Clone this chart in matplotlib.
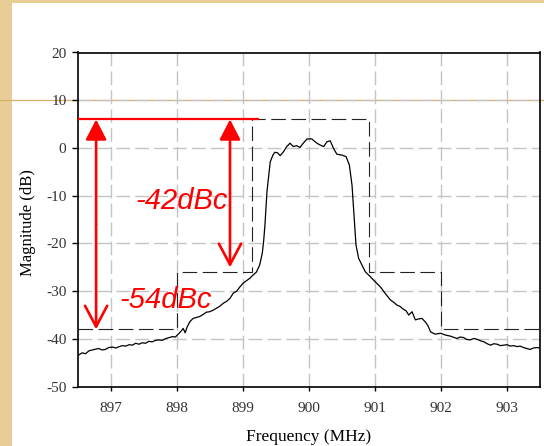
#!/usr/bin/env python3
# spectrum with emission mask, -42dBc / -54dBc markers
import matplotlib
matplotlib.use("Agg")
import matplotlib.pyplot as plt
from matplotlib.patches import Rectangle
from matplotlib.lines import Line2D

plt.rcParams['lines.scale_dashes'] = False
plt.rcParams['axes.unicode_minus'] = False

freq = [896.50, 896.56, 896.61, 896.66, 896.74, 896.81, 896.86, 896.91, 896.96, 897.02,
        897.07, 897.12, 897.17, 897.22, 897.27, 897.32, 897.37, 897.42, 897.47, 897.52,
        897.57, 897.62, 897.67, 897.72, 897.77, 897.83, 897.88, 897.93, 897.97, 898.00,
        898.05, 898.09, 898.12, 898.15, 898.19, 898.24, 898.29, 898.34, 898.39, 898.44,
        898.49, 898.54, 898.59, 898.64, 898.70, 898.75, 898.80, 898.85, 898.90, 898.95,
        899.00, 899.05, 899.10, 899.15, 899.20, 899.25, 899.29, 899.31, 899.33, 899.36,
        899.41, 899.45, 899.48, 899.52, 899.56, 899.61, 899.66, 899.71, 899.76, 899.81,
        899.86, 899.91, 899.97, 900.04, 900.09, 900.13, 900.17, 900.22, 900.27, 900.32,
        900.37, 900.42, 900.50, 900.56, 900.61, 900.65, 900.68, 900.71, 900.75, 900.80,
        900.85, 900.93, 901.00, 901.08, 901.15, 901.23, 901.28, 901.33, 901.38, 901.43,
        901.47, 901.51, 901.56, 901.61, 901.66, 901.71, 901.76, 901.80, 901.84, 901.91,
        901.99, 902.07, 902.14, 902.24, 902.29, 902.34, 902.39, 902.44, 902.50, 902.55,
        902.60, 902.65, 902.70, 902.75, 902.80, 902.85, 902.90, 902.95, 903.00, 903.05,
        903.10, 903.15, 903.20, 903.25, 903.30, 903.35, 903.40, 903.45, 903.50]
mag = [-43.4, -42.9, -43.1, -42.5, -42.2, -42.0, -42.3, -42.2, -41.8, -41.7,
       -41.9, -41.6, -41.4, -41.5, -41.2, -41.3, -40.9, -41.1, -40.8, -40.9,
       -40.5, -40.6, -40.3, -40.2, -40.3, -39.9, -39.7, -39.5, -39.6, -39.2,
       -38.5, -37.8, -38.7, -37.5, -36.4, -35.7, -35.5, -35.3, -34.9, -34.4,
       -34.3, -34.0, -33.6, -33.2, -32.5, -32.1, -31.5, -30.4, -30.0, -29.1,
       -28.3, -27.8, -27.3, -26.6, -26.0, -24.5, -22.0, -19.5, -16.1, -9.2,
       -2.9, -1.5, -0.9, -1.0, -1.6, -0.8, 0.3, 1.0, 0.3, 0.5,
       0.1, 1.0, 1.9, 1.9, 1.3, 0.9, 0.6, 0.3, 1.3, 1.5,
       -0.1, -1.3, -1.5, -1.8, -3.6, -7.8, -14.0, -20.3, -23.1, -24.5,
       -25.9, -27.0, -28.0, -29.1, -30.4, -31.8, -32.3, -32.9, -33.2, -33.8,
       -34.1, -35.0, -34.3, -36.0, -35.8, -35.7, -36.4, -37.2, -38.5, -39.0,
       -38.8, -39.2, -39.4, -39.9, -39.6, -39.7, -40.1, -40.2, -39.9, -40.1,
       -40.4, -40.6, -41.0, -41.3, -41.0, -41.1, -41.4, -41.3, -41.2, -41.5,
       -41.4, -41.6, -41.5, -41.8, -42.0, -42.2, -41.9, -41.8, -41.9]

# spectral mask (dashed)
mask_f = [896.5, 898.0, 898.0, 899.13, 899.13, 900.9, 900.9, 902.0, 902.0, 903.5]
mask_db = [-38, -38, -26, -26, 6, 6, -26, -26, -38, -38]

# red markers
ref_level = 6
ref_end = 899.24
arrow1_x, arrow1_low, label1 = 896.77, -38, '-54dBc'
arrow2_x, arrow2_low, label2 = 898.8, -25, '-42dBc'

xticks = [897, 898, 899, 900, 901, 902, 903]
yticks = [-50, -40, -30, -20, -10, 0, 10, 20]

fig = plt.figure(figsize=(5.44, 4.46), dpi=100)
fig.patch.set_facecolor('#E9CD96')
# white slide panel
fig.patches.append(Rectangle((12/544, 0), 1, 1 - 3/446, transform=fig.transFigure,
                             facecolor='white', edgecolor='none', zorder=-2))
# thin tan rule across the slide
fig.lines.append(Line2D([0, 1], [1 - 100/446, 1 - 100/446], transform=fig.transFigure,
                        color='#D8AE68', lw=0.9, zorder=-1))

ax = fig.add_axes([78.3/544, 1 - 386.7/446, (540 - 78.3)/544, (386.7 - 52.5)/446])
ax.set_zorder(1)
ax.set_facecolor('none')

ax.set_xlim(896.5, 903.5)
ax.set_ylim(-50, 20)
ax.set_xticks(xticks)
ax.set_yticks(yticks)
ax.grid(True, color='#c4c4c4', lw=1.0, linestyle=(0, (10, 3.6)))
ax.set_axisbelow(True)

ax.plot(mask_f, mask_db, color='#222222', lw=0.8, linestyle=(0, (10.5, 4)), zorder=3)
ax.plot(freq, mag, color='black', lw=0.9, zorder=4)

ax.plot([896.5, ref_end], [ref_level, ref_level], color='red', lw=1.6,
        solid_capstyle='butt', zorder=6, clip_on=False)
for x, low in [(arrow1_x, arrow1_low), (arrow2_x, arrow2_low)]:
    mid = (ref_level + low) / 2
    ax.annotate('', xy=(x, ref_level), xytext=(x, mid),
                arrowprops=dict(arrowstyle='-|>,head_length=0.62,head_width=0.32',
                                color='red', lw=1.9, shrinkA=0, shrinkB=0,
                                mutation_scale=20), zorder=6)
    ax.annotate('', xy=(x, low), xytext=(x, mid),
                arrowprops=dict(arrowstyle='->,head_length=0.75,head_width=0.4',
                                color='red', lw=1.9, shrinkA=0, shrinkB=0,
                                mutation_scale=20), zorder=6)

ax.text(897.37, -12.8, label2, color='red', fontsize=21, fontstyle='italic',
        family='Liberation Sans', ha='left', va='baseline', zorder=7)
ax.text(897.12, -33.6, label1, color='red', fontsize=21, fontstyle='italic',
        family='Liberation Sans', ha='left', va='baseline', zorder=7)

for s in ax.spines.values():
    s.set_linewidth(1.2)
    s.set_color('black')
ax.tick_params(axis='y', direction='out', length=4, width=1, pad=4.5,
               labelsize=11, labelcolor='#333333')
ax.tick_params(axis='x', direction='out', length=3, width=1, pad=8,
               labelsize=11, labelcolor='#333333')
for lab in ax.get_xticklabels() + ax.get_yticklabels():
    lab.set_family('Liberation Serif')

fig.text(309/544, 1 - 437/446, 'Frequency (MHz)', family='Liberation Serif',
         fontsize=12.5, ha='center', va='center')
fig.text(28/544, 1 - 223/446, 'Magnitude (dB)', family='Liberation Serif',
         fontsize=12, rotation=90, ha='center', va='center')

plt.savefig('out.png', dpi=100, facecolor=fig.get_facecolor())
